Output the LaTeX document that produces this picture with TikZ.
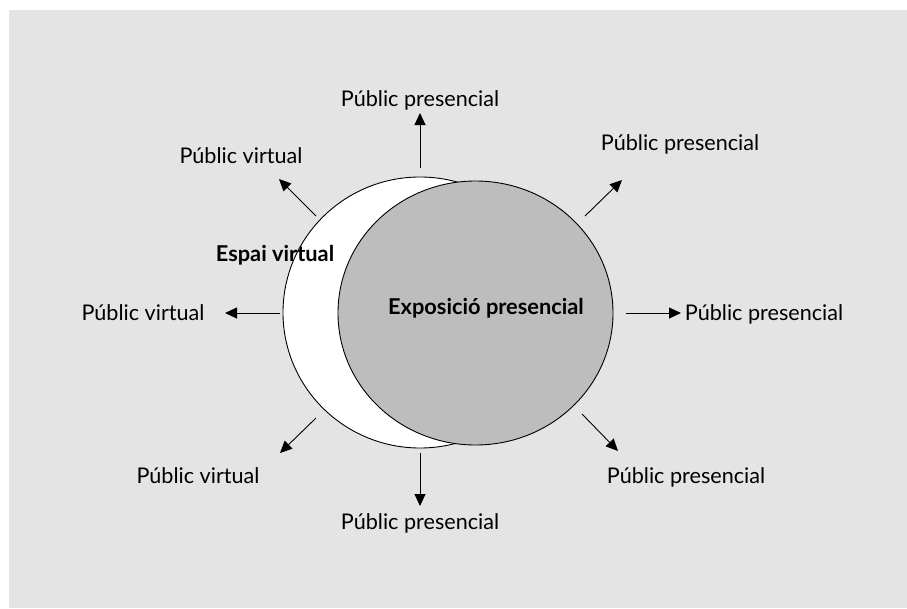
\documentclass[tikz,border=0pt]{standalone}
\usepackage{fontspec}
\setmainfont{Lato}
\usetikzlibrary{arrows.meta}
\definecolor{bggray}{HTML}{E4E4E4}
\definecolor{circgray}{HTML}{BDBDBE}
\tikzset{
  lbl/.style={font=\fontsize{21.6}{24}\selectfont, inner sep=0pt, anchor=center},
  blbl/.style={font=\fontsize{21.8}{24}\selectfont\bfseries, inner sep=0pt, anchor=center},
  arr/.style={-{Triangle[length=12pt,width=11pt]}, line width=0.9pt},
  outline/.style={line width=0.9pt, draw=black}
}
\begin{document}
\begin{tikzpicture}[x=1pt,y=-1pt]
\useasboundingbox (0,0) rectangle (907,608);
\fill[bggray] (9,10) rectangle (907,608);
% circles
\path[outline, fill=white] (420,312.5) ellipse [x radius=137, y radius=135.5];
\path[outline, fill=circgray] (475.5,313) ellipse [x radius=137.5, y radius=132];
% labels inside
\node[blbl] (espai) at (275,255) {Espai virtual};
\node[blbl] (expo) at (486,308) {Exposició presencial};
% outer labels
\node[lbl] (top) at (420,100) {Públic presencial};
\node[lbl] (tl) at (241,156) {Públic virtual};
\node[lbl] (tr) at (680,144) {Públic presencial};
\node[lbl] (l) at (143,313) {Públic virtual};
\node[lbl] (r) at (764,314) {Públic presencial};
\node[lbl] (bl) at (198,476) {Públic virtual};
\node[lbl] (b) at (420,523) {Públic presencial};
\node[lbl] (br) at (686,477) {Públic presencial};
% arrow coordinates
\coordinate (s1) at (420,168); \coordinate (e1) at (420,113);
\coordinate (s2) at (316,216); \coordinate (e2) at (279,179);
\coordinate (s3) at (585,216); \coordinate (e3) at (622,180);
\coordinate (s4) at (280,313); \coordinate (e4) at (225,313);
\coordinate (s5) at (626,313); \coordinate (e5) at (681,313);
\coordinate (s6) at (316,418); \coordinate (e6) at (280,453);
\coordinate (s7) at (420,453); \coordinate (e7) at (420,506);
\coordinate (s8) at (582,414); \coordinate (e8) at (618,451);
\foreach \i in {1,...,8} { \draw[arr] (s\i) -- (e\i); }
\end{tikzpicture}
\end{document}
